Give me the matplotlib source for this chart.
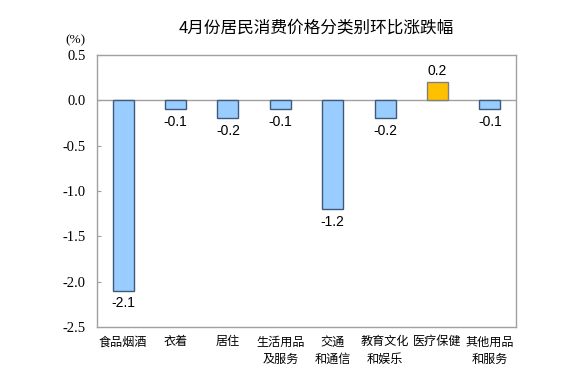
import matplotlib
matplotlib.use("Agg")
import matplotlib.pyplot as plt
from matplotlib.font_manager import FontProperties
import numpy as np

plt.rcParams['font.family'] = ['Noto Sans CJK SC', 'DejaVu Sans']

categories = ["食品烟酒", "衣着", "居住", "生活用品\n及服务", "交通\n和通信",
              "教育文化\n和娱乐", "医疗保健", "其他用品\n和服务"]
values = [-2.1, -0.1, -0.2, -0.1, -1.2, -0.2, 0.2, -0.1]
yticks = [0.5, 0.0, -0.5, -1.0, -1.5, -2.0, -2.5]

serif_fp = FontProperties(family="Liberation Serif", size=10.5)
sans_fp = FontProperties(family="Liberation Sans", size=10)

W, H = 572, 387
fig = plt.figure(figsize=(W / 100, H / 100), dpi=100)
ax = fig.add_axes([97 / W, (H - 327) / H, 419 / W, 272 / H])

x = np.arange(len(categories))
colors = ["#FFC000" if v > 0 else "#99CCFF" for v in values]
edges = ["#808080" if v > 0 else "#3F5A78" for v in values]
ax.bar(x, values, width=0.4, color=colors, edgecolor=edges, linewidth=1.0, zorder=3)

ax.axhline(0, color="#A0A0A0", linewidth=1.0, zorder=2)

for xi, v in zip(x, values):
    if v < 0:
        ax.annotate(f"{v:.1f}", (xi, v), xytext=(0, -4), textcoords="offset points",
                    ha="center", va="top", fontproperties=sans_fp)
    else:
        ax.annotate(f"{v:.1f}", (xi, v), xytext=(0, 3), textcoords="offset points",
                    ha="center", va="bottom", fontproperties=sans_fp)

ax.set_xlim(-0.5, len(categories) - 0.5)
ax.set_ylim(-2.5, 0.5)
ax.tick_params(axis="y", direction="in", length=3, color="#A0A0A0", pad=8)
ax.tick_params(axis="x", length=0, pad=6)
ax.set_yticks(yticks)
ax.set_yticklabels([f"{t:.1f}" for t in yticks], fontproperties=serif_fp)
ax.set_xticks(x)
ax.set_xticklabels(categories, fontsize=8.7, linespacing=1.45)

for s in ax.spines.values():
    s.set_color("#A0A0A0")
    s.set_linewidth(1.0)

fig.text(75 / W, 1 - 40 / H, "(%)", fontproperties=FontProperties(family="Liberation Serif", size=9.5),
         ha="center", va="center")
fig.text(316 / W, 1 - 28 / H, "4月份居民消费价格分类别环比涨跌幅", fontsize=12,
         ha="center", va="center")

fig.savefig("out.png", dpi=100)
